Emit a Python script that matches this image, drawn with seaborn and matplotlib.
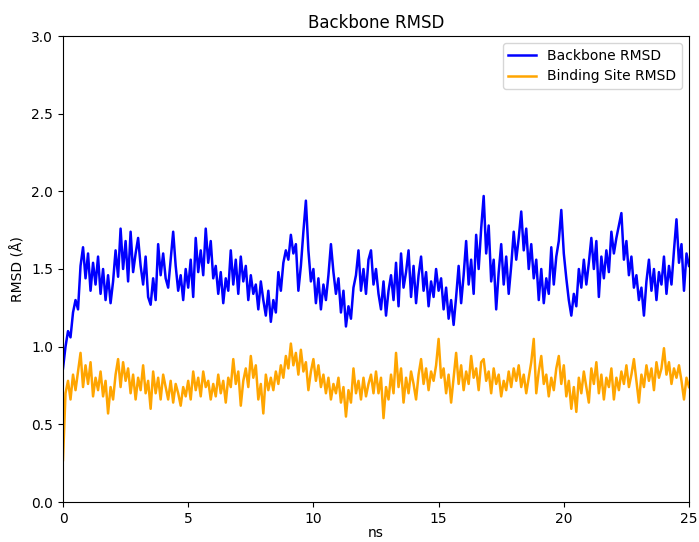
import seaborn as sns
import matplotlib.pyplot as plt
import numpy as np
import pandas as pd

# time axis, one frame every 0.1 ns
time_ns = np.round(np.arange(0, 251) * 0.1, 1)

backbone_rmsd = [
    # 0.0 - 4.1
    0.86, 1.00, 1.10, 1.06, 1.22, 1.30, 1.24, 1.52, 1.64, 1.44,
    1.60, 1.36, 1.54, 1.40, 1.58, 1.34, 1.50, 1.30, 1.46, 1.28,
    1.42, 1.62, 1.45, 1.76, 1.50, 1.68, 1.42, 1.74, 1.48, 1.60,
    1.70, 1.52, 1.40, 1.58, 1.32, 1.27, 1.44, 1.30, 1.66, 1.46,
    1.60, 1.44,
    # 4.2 - 8.3
    1.38, 1.56, 1.74, 1.52, 1.36, 1.46, 1.30, 1.50, 1.38, 1.56,
    1.32, 1.70, 1.48, 1.62, 1.46, 1.76, 1.54, 1.68, 1.44, 1.52,
    1.34, 1.48, 1.28, 1.44, 1.36, 1.62, 1.40, 1.56, 1.34, 1.58,
    1.42, 1.52, 1.30, 1.46, 1.34, 1.40, 1.24, 1.42, 1.30, 1.20,
    1.36, 1.16,
    # 8.4 - 12.5
    1.30, 1.22, 1.48, 1.36, 1.54, 1.62, 1.56, 1.72, 1.60, 1.66,
    1.36, 1.52, 1.74, 1.94, 1.62, 1.42, 1.50, 1.28, 1.44, 1.24,
    1.40, 1.30, 1.46, 1.66, 1.48, 1.34, 1.44, 1.22, 1.36, 1.13,
    1.26, 1.18, 1.38, 1.46, 1.62, 1.36, 1.50, 1.34, 1.56, 1.62,
    1.40, 1.50,
    # 12.6 - 16.7
    1.34, 1.24, 1.42, 1.20, 1.36, 1.46, 1.30, 1.54, 1.26, 1.60,
    1.38, 1.48, 1.62, 1.32, 1.52, 1.28, 1.46, 1.58, 1.36, 1.48,
    1.26, 1.42, 1.32, 1.50, 1.36, 1.44, 1.24, 1.38, 1.18, 1.30,
    1.14, 1.32, 1.52, 1.28, 1.46, 1.68, 1.40, 1.56, 1.34, 1.72,
    1.50, 1.76,
    # 16.8 - 20.9
    1.97, 1.60, 1.78, 1.42, 1.56, 1.24, 1.48, 1.66, 1.40, 1.58,
    1.34, 1.52, 1.74, 1.56, 1.70, 1.87, 1.62, 1.76, 1.50, 1.66,
    1.44, 1.56, 1.30, 1.50, 1.28, 1.44, 1.34, 1.64, 1.40, 1.58,
    1.68, 1.88, 1.60, 1.44, 1.30, 1.20, 1.34, 1.26, 1.50, 1.38,
    1.56, 1.40,
    # 21.0 - 25.0
    1.54, 1.70, 1.50, 1.68, 1.32, 1.58, 1.44, 1.62, 1.48, 1.74,
    1.60, 1.70, 1.78, 1.86, 1.56, 1.68, 1.46, 1.58, 1.38, 1.46,
    1.30, 1.38, 1.20, 1.42, 1.56, 1.36, 1.50, 1.30, 1.48, 1.40,
    1.58, 1.34, 1.52, 1.40, 1.62, 1.82, 1.54, 1.66, 1.36, 1.60,
    1.52,
]

binding_site_rmsd = [
    # 0.0 - 4.1
    0.27, 0.70, 0.78, 0.66, 0.82, 0.72, 0.84, 0.96, 0.74, 0.88,
    0.76, 0.90, 0.68, 0.80, 0.72, 0.84, 0.68, 0.78, 0.57, 0.74,
    0.66, 0.82, 0.92, 0.74, 0.90, 0.78, 0.86, 0.70, 0.82, 0.66,
    0.80, 0.72, 0.88, 0.70, 0.78, 0.60, 0.84, 0.70, 0.80, 0.66,
    0.82, 0.74,
    # 4.2 - 8.3
    0.66, 0.78, 0.64, 0.76, 0.70, 0.62, 0.74, 0.68, 0.78, 0.66,
    0.84, 0.72, 0.80, 0.68, 0.84, 0.74, 0.78, 0.66, 0.76, 0.68,
    0.82, 0.70, 0.78, 0.64, 0.80, 0.74, 0.92, 0.76, 0.84, 0.62,
    0.78, 0.86, 0.74, 0.94, 0.80, 0.88, 0.66, 0.76, 0.57, 0.82,
    0.72, 0.80,
    # 8.4 - 12.5
    0.72, 0.84, 0.76, 0.88, 0.80, 0.94, 0.86, 1.02, 0.88, 0.96,
    0.82, 0.98, 0.84, 0.90, 0.72, 0.84, 0.92, 0.78, 0.88, 0.74,
    0.82, 0.70, 0.80, 0.66, 0.76, 0.70, 0.80, 0.64, 0.74, 0.55,
    0.72, 0.64, 0.86, 0.70, 0.78, 0.66, 0.80, 0.68, 0.76, 0.82,
    0.70, 0.84,
    # 12.6 - 16.7
    0.70, 0.80, 0.54, 0.74, 0.66, 0.82, 0.70, 0.96, 0.74, 0.86,
    0.64, 0.80, 0.70, 0.84, 0.76, 0.66, 0.82, 0.92, 0.76, 0.86,
    0.72, 0.84, 0.78, 0.88, 1.05, 0.80, 0.86, 0.70, 0.82, 0.64,
    0.80, 0.96, 0.76, 0.88, 0.72, 0.84, 0.76, 0.94, 0.80, 0.86,
    0.72, 0.90,
    # 16.8 - 20.9
    0.92, 0.78, 0.84, 0.70, 0.86, 0.76, 0.82, 0.68, 0.78, 0.72,
    0.84, 0.74, 0.86, 0.78, 0.88, 0.74, 0.82, 0.70, 0.80, 0.90,
    1.05, 0.70, 0.84, 0.94, 0.76, 0.82, 0.68, 0.80, 0.72, 0.86,
    0.94, 0.76, 0.88, 0.68, 0.78, 0.60, 0.74, 0.58, 0.80, 0.70,
    0.84, 0.74,
    # 21.0 - 25.0
    0.64, 0.86, 0.76, 0.90, 0.70, 0.82, 0.66, 0.80, 0.74, 0.86,
    0.66, 0.80, 0.72, 0.84, 0.76, 0.88, 0.74, 0.82, 0.92, 0.78,
    0.64, 0.82, 0.74, 0.88, 0.78, 0.86, 0.72, 0.90, 0.80, 0.86,
    0.99, 0.82, 0.90, 0.76, 0.86, 0.80, 0.88, 0.78, 0.66, 0.80,
    0.74,
]

series_names = ['Backbone RMSD', 'Binding Site RMSD']
series_colors = ['blue', 'orange']

df = pd.concat([
    pd.DataFrame({'ns': time_ns, 'rmsd': backbone_rmsd, 'series': series_names[0]}),
    pd.DataFrame({'ns': time_ns, 'rmsd': binding_site_rmsd, 'series': series_names[1]}),
])

fig = plt.figure(figsize=(6.99, 5.42), dpi=100)
ax = fig.add_axes([63 / 699, 40 / 542, 626 / 699, 466 / 542])

sns.lineplot(data=df, x='ns', y='rmsd', hue='series',
             palette=dict(zip(series_names, series_colors)),
             linewidth=1.8, sort=False, ax=ax)

ax.set_xlim(0, 25)
ax.set_ylim(0, 3.0)
ax.set_title('Backbone RMSD')
ax.set_xlabel('ns', labelpad=0)
ax.set_ylabel('RMSD (Å)')
ax.legend(loc='upper right')

plt.savefig('out.png', dpi=100)
